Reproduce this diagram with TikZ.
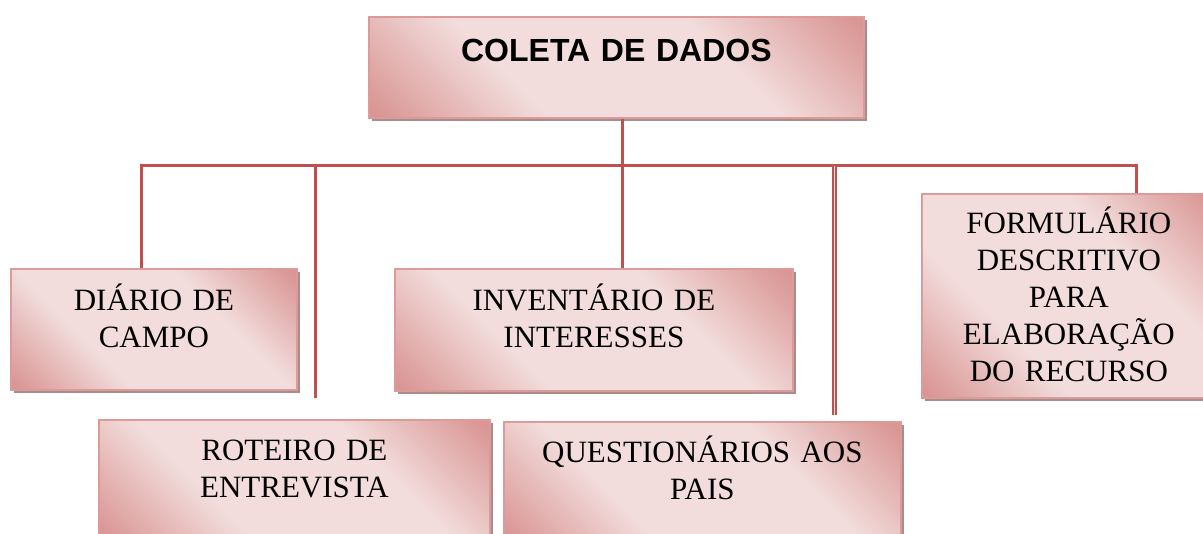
\documentclass[tikz,border=0pt]{standalone}
\usepackage{fontspec}
\setmainfont{Liberation Serif}
\setsansfont{Liberation Sans}
\usetikzlibrary{shadows}

\definecolor{rosedark}{RGB}{217,150,148}
\definecolor{roselight}{RGB}{242,221,220}
\definecolor{rosedraw}{RGB}{220,155,153}
\definecolor{linkred}{RGB}{192,80,77}
\definecolor{shadowgrey}{RGB}{170,140,140}
\pgfdeclarehorizontalshading{rosefade}{100bp}{color(0bp)=(rosedark); color(16bp)=(rosedark); color(36bp)=(roselight); color(64bp)=(roselight); color(84bp)=(rosedark); color(100bp)=(rosedark)}

\begin{document}
\begin{tikzpicture}[x=1pt,y=-1pt]
        \tikzstyle{box}=[anchor=north west, inner sep=0pt, align=center, shading=rosefade, shading angle=45, draw=rosedraw, line width=1.8pt, drop shadow={shadow xshift=3.5pt, shadow yshift=-3.5pt, fill=shadowgrey, opacity=1}, font=\fontsize{31}{37}\selectfont]
        \tikzstyle{link}=[draw=linkred, line width=3pt]
        \clip (0,0) rectangle (1203,534);
        \node[box, text width=495pt, text height=44.5pt, text depth=56.5pt, font=\sffamily\bfseries\fontsize{32}{38}\selectfont] (coleta) at (368,16) {COLETA DE DADOS};
        \node[box, text width=286pt, text height=42pt, text depth=79pt] (diario) at (10,268) {DIÁRIO DE\\CAMPO};
        \node[box, text width=398pt, text height=42pt, text depth=80pt] (inventario) at (394,268) {INVENTÁRIO DE\\INTERESSES};
        \node[box, text width=294pt, text height=40pt, text depth=164pt] (formulario) at (921,193) {FORMULÁRIO\\DESCRITIVO\\PARA\\ELABORAÇÃO\\DO RECURSO};
        \node[box, text width=391pt, text height=41pt, text depth=80pt] (roteiro) at (98,419) {ROTEIRO DE\\ENTREVISTA};
        \node[box, text width=397pt, text height=41pt, text depth=80pt] (questionarios) at (503,421) {QUESTIONÁRIOS AOS\\PAIS};
        % barra e ligacoes
        \coordinate (barL) at (141,166);
        \coordinate (barR) at (1136,166);
        \coordinate (hub) at (622,166);
        \coordinate (roteiroEnd) at (315,398);
        \coordinate (questEnd) at (834.5,415);
        \draw[link] (diario.north -| barL) -- (barL) -- (barR) -- (formulario.north -| barR);
        \draw[link] (coleta.south -| hub) -- (inventario.north -| hub);
        \draw[link] (roteiroEnd |- barL) -- (roteiroEnd);
        \draw[link, line width=2.2pt, double=roselight, double distance=1.2pt] (questEnd |- barL) -- (questEnd);
\end{tikzpicture}
\end{document}
